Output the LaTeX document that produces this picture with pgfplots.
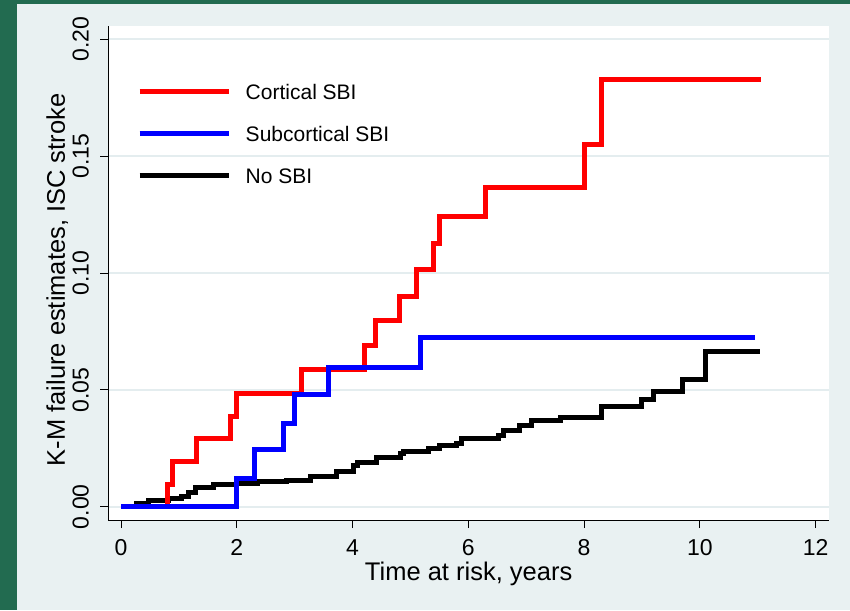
\documentclass[border=0pt]{standalone}
\usepackage{pgfplots}
\pgfplotsset{compat=1.18}
\usepackage{fontspec}
\setmainfont{Liberation Sans}

\definecolor{slidegreen}{HTML}{226B50}
\definecolor{panelbg}{HTML}{E9F1F2}
\definecolor{gridc}{HTML}{E4EDEF}

% K-M failure estimates
\pgfplotstableread{
t      f
0      0
0.80   0.0097
0.89   0.0193
1.31   0.0290
1.89   0.0388
2.00   0.0485
3.11   0.0589
4.20   0.0689
4.40   0.0795
4.81   0.0898
5.11   0.1013
5.39   0.1127
5.50   0.1241
6.30   0.1365
8.00   0.1548
8.30   0.1830
11.05  0.1830
}\cortical

\pgfplotstableread{
t      f
0      0
2.00   0.0121
2.30   0.0243
2.80   0.0356
2.99   0.0478
3.59   0.0597
5.18   0.0723
10.95  0.0723
}\subcortical

\pgfplotstableread{
t      f
0      0
0.27   0.0014
0.47   0.0025
0.82   0.0036
1.05   0.0045
1.16   0.0060
1.28   0.0083
1.59   0.0095
2.00   0.0101
2.35   0.0106
2.86   0.0113
3.27   0.0131
3.73   0.0150
4.01   0.0175
4.08   0.0190
4.42   0.0209
4.82   0.0226
4.88   0.0238
5.31   0.0250
5.51   0.0262
5.80   0.0272
5.89   0.0290
6.52   0.0303
6.60   0.0325
6.89   0.0348
7.09   0.0368
7.59   0.0383
8.30   0.0428
8.99   0.0457
9.19   0.0492
9.70   0.0545
10.10  0.0666
11.04  0.0666
}\nosbi

\begin{document}
\begin{tikzpicture}
\fill[slidegreen] (0pt,0pt) rectangle (850pt,610pt);
\fill[panelbg] (16.7pt,0pt) rectangle (850pt,606pt);
\begin{axis}[
    at={(108pt,90pt)}, anchor=south west,
    scale only axis, width=721.3pt, height=494pt,
    xmin=-0.2246, xmax=12.235,
    ymin=-0.00569, ymax=0.2057,
    axis x line*=bottom, axis y line*=left,
    axis line style={black, line width=1pt, -},
    axis background/.style={fill=white},
    xtick={0,2,...,12},
    ytick={0,0.05,0.10,0.15,0.20},
    tick align=outside,
    major tick length=8pt,
    tick style={black, line width=1pt},
    ymajorgrids=true,
    grid style={gridc, line width=2pt},
    /pgf/number format/assume math mode=true,
    yticklabel={\pgfmathprintnumber[fixed, fixed zerofill, precision=2]{\tick}},
    scaled y ticks=false,
    tick label style={font=\fontsize{23}{27}\selectfont},
    xticklabel style={anchor=base, yshift=-27pt},
    yticklabel style={xshift=-11.5pt, anchor=base, rotate=90},
    xlabel={Time at risk, years},
    ylabel={K-M failure estimates, ISC stroke},
    label style={font=\fontsize{25.5}{30}\selectfont},
    xlabel style={at={(axis description cs:0.5,-0.1215)}, anchor=base},
    ylabel style={at={(axis description cs:-0.0597,0.486)}, anchor=base},
    legend style={draw=none, fill=none, inner sep=0pt,
        at={(axis description cs:0.04,0.882)}, anchor=north west,
        font=\fontsize{21}{25}\selectfont,
        row sep=27pt,
        nodes={inner sep=0pt, text height=15pt, text depth=0pt}},
    legend cell align=left,
    legend image code/.code={%
        \draw[#1, line width=5pt] (0pt,0pt) -- (89pt,0pt);
        \path (106pt,0pt);},
]
\addlegendimage{red}
\addlegendimage{blue}
\addlegendimage{black}

\addplot[forget plot, const plot, black, line width=5pt] table[x=t, y=f] {\nosbi};
\addplot[forget plot, const plot, red, line width=5pt] table[x=t, y=f] {\cortical};
\addplot[forget plot, const plot, blue, line width=5pt] table[x=t, y=f] {\subcortical};

\legend{Cortical SBI, Subcortical SBI, No SBI}
\end{axis}
\pgfresetboundingbox
\useasboundingbox (0pt,0pt) rectangle (850pt,610pt);
\end{tikzpicture}
\end{document}
